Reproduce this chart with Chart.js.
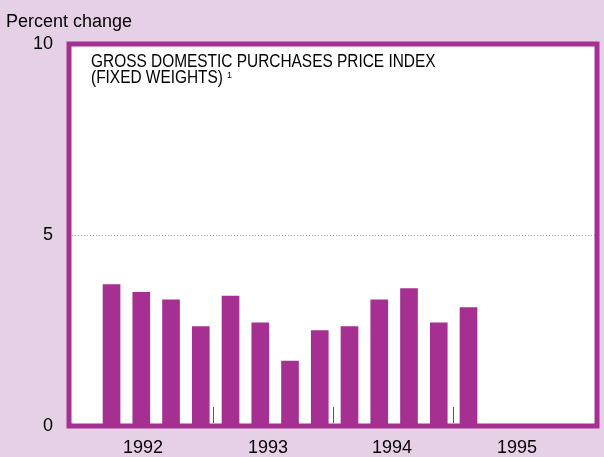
<!DOCTYPE html>
<html>
<head>
<meta charset="utf-8">
<script src="https://cdn.jsdelivr.net/npm/chart.js@4.4.0/dist/chart.umd.min.js"></script>
<style>
  html, body { margin: 0; padding: 0; background: #e6d0e6; }
  #wrap { width: 604px; height: 457px; }
</style>
</head>
<body>
<div id="wrap"><canvas id="chart"></canvas></div>
<script>
// Quarterly percent change, 1992 Q1 .. 1995 Q1
const quarters = ['1992 Q1', '1992 Q2', '1992 Q3', '1992 Q4',
                  '1993 Q1', '1993 Q2', '1993 Q3', '1993 Q4',
                  '1994 Q1', '1994 Q2', '1994 Q3', '1994 Q4',
                  '1995 Q1'];
const values = [3.7, 3.5, 3.3, 2.6, 3.4, 2.7, 1.7, 2.5, 2.6, 3.3, 3.6, 2.7, 3.1];

// Year labels and where they sit (in quarter units)
const years = ['1992', '1993', '1994', '1995'];
const yearLabelPos = [1.06, 5.26, 9.43, 13.63];
// Year separators (small tick marks on the baseline)
const yearBreaks = [3.42, 7.45, 11.48];

const yTicks = [0, 5, 10];

const purple = '#a53091';
const font = 'Liberation Sans, Arial, sans-serif';

const decor = {
  id: 'decor',
  beforeDraw(chart) {
    const { ctx, chartArea: a } = chart;
    ctx.save();
    ctx.fillStyle = '#fff';
    ctx.fillRect(a.left, a.top, a.right - a.left, a.bottom - a.top);
    ctx.restore();
  },
  afterDatasetsDraw(chart) {
    const { ctx, chartArea: a, scales: { x } } = chart;
    ctx.save();
    // year separators
    ctx.strokeStyle = '#555';
    ctx.lineWidth = 1;
    yearBreaks.forEach(v => {
      const px = Math.round(x.getPixelForValue(v)) + 0.5;
      ctx.beginPath();
      ctx.moveTo(px, a.bottom - 19);
      ctx.lineTo(px, a.bottom - 3);
      ctx.stroke();
    });
    // frame
    ctx.strokeStyle = purple;
    ctx.lineWidth = 5;
    ctx.strokeRect(a.left, a.top, a.right - a.left, a.bottom - a.top);
    ctx.restore();
  },
  afterDraw(chart) {
    const { ctx } = chart;
    ctx.save();
    ctx.fillStyle = '#000';
    ctx.textBaseline = 'alphabetic';
    ctx.font = '18px ' + font;
    ctx.fillText('Percent change', 6, 27);
    // condensed panel title
    ctx.save();
    ctx.translate(91, 67);
    ctx.scale(0.857, 1);
    ctx.fillText('GROSS DOMESTIC PURCHASES PRICE INDEX', 0, 0);
    ctx.fillText('(FIXED WEIGHTS)', 0, 16);
    ctx.restore();
    ctx.font = '9px ' + font;
    ctx.fillText('1', 227, 78);
    ctx.restore();
  }
};

new Chart(document.getElementById('chart'), {
  type: 'bar',
  data: {
    datasets: [{
      data: values.map((v, i) => ({ x: i, y: v })),
      backgroundColor: purple,
      barThickness: 17
    }]
  },
  options: {
    responsive: true,
    maintainAspectRatio: false,
    animation: false,
    layout: { padding: { top: 44, right: 7, left: 0, bottom: 0 } },
    plugins: { legend: { display: false }, tooltip: { enabled: false } },
    scales: {
      x: {
        type: 'linear',
        offset: false,
        min: -1.43,
        max: 16.32,
        afterBuildTicks: s => { s.ticks = yearLabelPos.map(v => ({ value: v })); },
        afterFit: s => { s.height = 31; },
        grid: { display: false, drawTicks: false, offset: false },
        border: { display: false },
        ticks: {
          padding: 11,
          color: '#000',
          font: { family: font, size: 18 },
          callback: (v, i) => years[i]
        }
      },
      y: {
        min: 0,
        max: 10,
        afterBuildTicks: s => { s.ticks = yTicks.map(v => ({ value: v })); },
        afterFit: s => { s.width = 69; },
        grid: {
          drawTicks: false,
          color: c => c.tick && c.tick.value === 5 ? '#999' : 'rgba(0,0,0,0)',
          lineWidth: 1
        },
        border: { display: false, dash: [1, 2] },
        ticks: {
          padding: 16,
          color: '#000',
          font: { family: font, size: 18 }
        }
      }
    }
  },
  plugins: [decor]
});
</script>
</body>
</html>
